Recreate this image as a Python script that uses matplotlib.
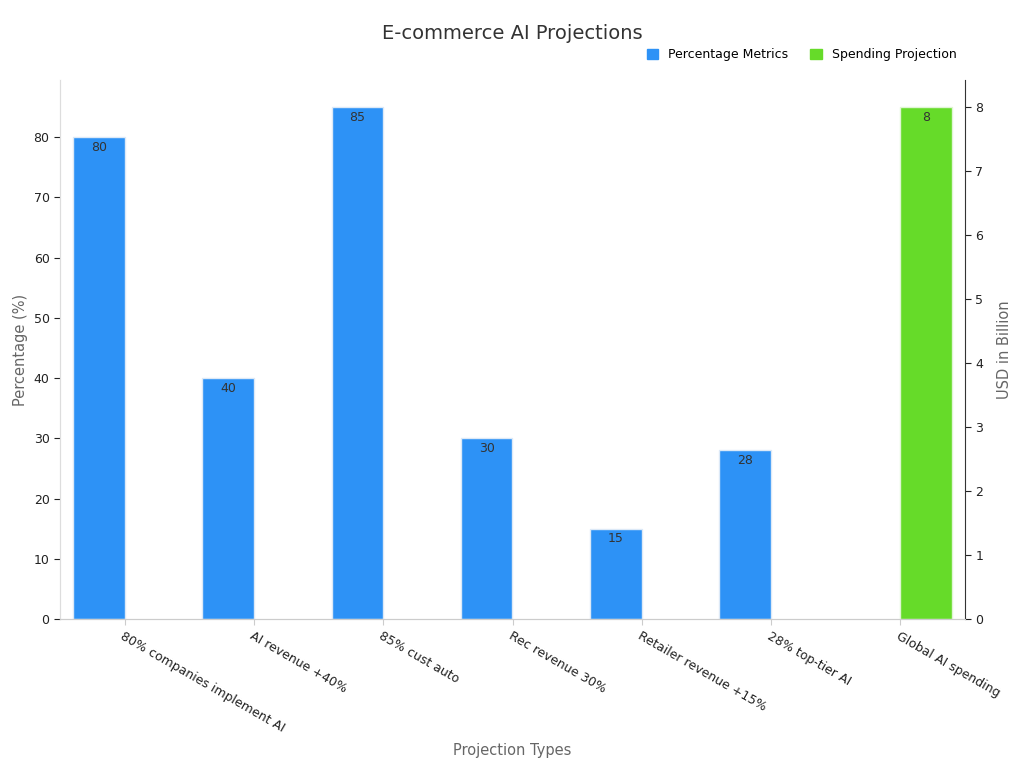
import matplotlib.pyplot as plt
import numpy as np
from matplotlib.patches import Patch

categories = ["80% companies implement AI", "AI revenue +40%", "85% cust auto",
              "Rec revenue 30%", "Retailer revenue +15%", "28% top-tier AI",
              "Global AI spending"]
pct_values = [80, 40, 85, 30, 15, 28, None]
spend_values = [None, None, None, None, None, None, 8]

blue = "#2d92f6"
green = "#66db29"
x = np.arange(len(categories))

fig = plt.figure(figsize=(10.24, 7.68), dpi=100)
ax = fig.add_axes([60 / 1024, 149 / 768, 905 / 1024, 539 / 768])
ax2 = ax.twinx()

for i, v in enumerate(pct_values):
    if v is None:
        continue
    ax.bar(x[i] - 0.2, v, width=0.4, color=blue, edgecolor="#dce9f7", linewidth=1)
    ax.text(x[i] - 0.2, v - 0.6, str(v), ha="center", va="top", fontsize=9, color="#333333")
for i, v in enumerate(spend_values):
    if v is None:
        continue
    ax2.bar(x[i] + 0.2, v, width=0.4, color=green, edgecolor="#e0f5d4", linewidth=1)
    ax2.text(x[i] + 0.2, v - 0.057, str(v), ha="center", va="top", fontsize=9, color="#333333")

ax.set_xlim(-0.5, len(categories) - 0.5)
ax.set_ylim(0, 89.5)
ax2.set_ylim(0, 8.42)
ax.set_yticks(range(0, 81, 10))
ax2.set_yticks(range(0, 9))
ax.set_xticks(x)
ax.set_xticklabels(categories, rotation=-30, ha="left", rotation_mode="anchor", fontsize=9, color="#222222")
ax.tick_params(axis="y", labelsize=9, colors="#222222", length=4)
ax2.tick_params(axis="y", labelsize=9, colors="#222222", length=4)
ax.tick_params(axis="x", length=4, color="#cccccc")

for a in (ax, ax2):
    a.spines["top"].set_visible(False)
    a.spines["left"].set_color("#dddddd")
    a.spines["bottom"].set_color("#cccccc")
ax2.spines["right"].set_color("#333333")
ax.spines["right"].set_visible(False)

ax.set_ylabel("Percentage (%)", fontsize=10.5, color="#666666")
ax2.set_ylabel("USD in Billion", fontsize=10.5, color="#666666", labelpad=10)
fig.text(0.5, 1 - 751 / 768, "Projection Types", ha="center", va="center", fontsize=10.5, color="#666666")

fig.text(0.5, 0.957, "E-commerce AI Projections", ha="center", va="center", fontsize=14, color="#333333")
handles = [Patch(color=blue, label="Percentage Metrics"), Patch(color=green, label="Spending Projection")]
fig.legend(handles=handles, loc="center right", bbox_to_anchor=(0.945, 0.929), ncol=2, frameon=False,
           fontsize=9, handlelength=0.9, handleheight=0.9, columnspacing=1.8)

fig.savefig("out.png", dpi=100)
